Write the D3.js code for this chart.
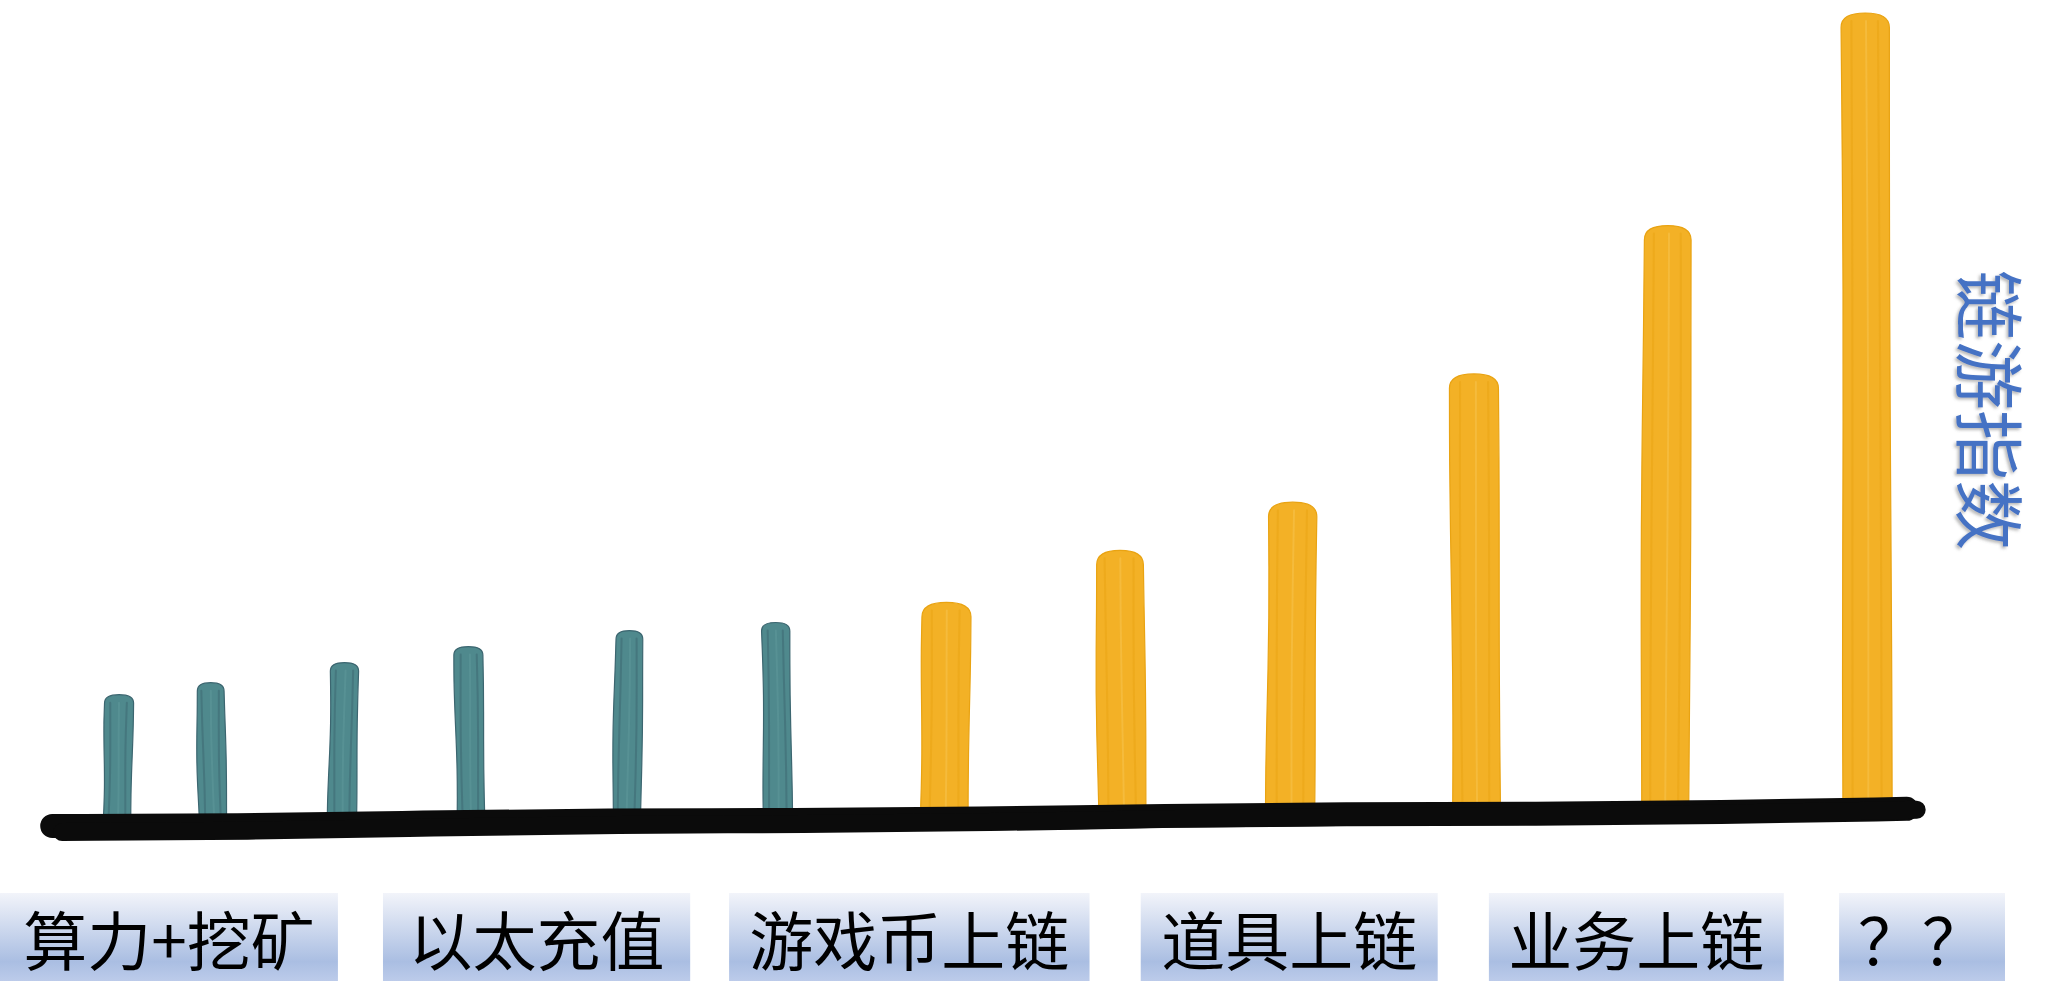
<!DOCTYPE html>
<html>
<head>
<meta charset="utf-8">
<script src="https://cdn.jsdelivr.net/npm/d3@7"></script>
<style>
html, body { margin: 0; padding: 0; background: #fff; overflow: hidden; }
svg { display: block; }
</style>
</head>
<body>
<svg id="chart"></svg>
<script>
// where each bar sits on the stage timeline (0-100) and its index height
const barStage = [5.7, 10.4, 16.7, 23.0, 30.6, 38.0, 46.1, 54.8, 63.0, 72.1, 81.3, 91.2];
const barIndex = [15, 16.5, 19, 21, 23, 24, 26.5, 33, 39, 55, 73.5, 100];
const barPhase = ["old", "old", "old", "old", "old", "old", "new", "new", "new", "new", "new", "new"];

// stage labels under the axis, with the span of the timeline they cover
const labelText = ["算力+挖矿", "以太充值", "游戏币上链", "道具上链", "业务上链", "？？"];
const labelFrom = [0, 18.7, 35.6, 55.7, 72.7, 89.8];
const labelTo = [16.5, 33.7, 53.2, 70.2, 87.1, 97.9];

const axisTitle = "链游指数";

const width = 2048;
const height = 982;

const svg = d3.select("#chart")
    .attr("width", width)
    .attr("height", height);

const defs = svg.append("defs");

const grad = defs.append("linearGradient")
    .attr("id", "boxGrad")
    .attr("x1", 0).attr("y1", 0)
    .attr("x2", 0).attr("y2", 1);
grad.append("stop").attr("offset", "0%").attr("stop-color", "#f2f4fa");
grad.append("stop").attr("offset", "78%").attr("stop-color", "#aabee2");
grad.append("stop").attr("offset", "100%").attr("stop-color", "#bccbea");

const shadow = defs.append("filter")
    .attr("id", "txtShadow")
    .attr("x", "-10%").attr("y", "-10%")
    .attr("width", "120%").attr("height", "120%");
shadow.append("feDropShadow")
    .attr("dx", 2).attr("dy", 2)
    .attr("stdDeviation", 1.6)
    .attr("flood-color", "#666")
    .attr("flood-opacity", 0.45);

const xScale = d3.scaleLinear()
    .domain([0, 100])
    .range([0, width]);

const yScale = d3.scaleLinear()
    .domain([0, 100])
    .range([815, 13]);

// the hand drawn axis runs slightly uphill
const axisStart = 2.55;
const axisEnd = 93.1;
const baseY = d3.scaleLinear()
    .domain([axisStart, axisEnd])
    .range([826, 810]);

const colors = {
    old: { fill: "#4f898d", dark: "#3c6670", light: "#5f9a9c" },
    new: { fill: "#f3b126", dark: "#e9a312", light: "#f8c651" }
};

const bars = barStage.map((s, i) => ({
    stage: s,
    value: barIndex[i],
    phase: barPhase[i],
    i: i
}));

// bars: a marker stroke plus a few streaks
const barG = svg.append("g").attr("class", "bars");

bars.forEach(d => {
    const cx = xScale(d.stage);
    const w = d.phase === "old" ? 28 : 48;
    const top = yScale(d.value);
    const bottom = baseY(d.stage) + 4;
    const c = colors[d.phase];
    const n = 6;
    const tilt = (d.i % 2 ? -1 : 1) * 2.5;

    const left = [];
    const right = [];
    for (let k = 0; k <= n; k++) {
        const yy = bottom - (bottom - top - w * 0.3) * k / n;
        const wob = 0.9 * Math.sin(k * 0.9 + d.i * 2.1);
        const lean = tilt * k / n;
        left.push([cx - w / 2 + wob + lean, yy]);
        right.push([cx + w / 2 - wob * 0.5 + lean, yy]);
    }
    const lt = left[n];
    const rt = right[n];
    const edge = d3.line().curve(d3.curveCatmullRom);
    let p = edge(left);
    p += `Q${lt[0]},${top} ${(lt[0] + rt[0]) / 2},${top}`;
    p += `Q${rt[0]},${top} ${rt[0]},${rt[1]}`;
    p += edge(right.slice().reverse()).replace(/^M/, "L");
    p += "Z";

    barG.append("path")
        .attr("d", p)
        .attr("fill", c.fill)
        .attr("stroke", c.dark)
        .attr("stroke-width", 1.2)
        .attr("stroke-linejoin", "round");

    // streaks inside the bar
    [-0.3, 0.02, 0.28].forEach((f, j) => {
        const line = d3.line().curve(d3.curveBasis);
        const pts = [];
        for (let k = 0; k <= 4; k++) {
            const yy = bottom - 6 - (bottom - top - 14) * k / 4;
            pts.push([cx + f * w + 0.8 * Math.sin(k + j + d.i) + tilt * k / 4, yy]);
        }
        barG.append("path")
            .attr("d", line(pts))
            .attr("fill", "none")
            .attr("stroke", j === 1 ? c.light : c.dark)
            .attr("stroke-width", 2)
            .attr("stroke-linecap", "round")
            .attr("opacity", 0.5);
    });
});

// thick brush stroke as the axis
const axisLine = d3.line().curve(d3.curveBasis);
const axisPts = d3.range(0, 11).map(k => {
    const s = axisStart + (axisEnd - axisStart) * k / 10;
    return [xScale(s), baseY(s) + Math.sin(k * 1.7) * 1.2];
});

svg.append("path")
    .attr("d", axisLine(axisPts))
    .attr("fill", "none")
    .attr("stroke", "#0b0b0b")
    .attr("stroke-width", 24)
    .attr("stroke-linecap", "round");

svg.append("path")
    .attr("d", axisLine(axisPts.map((p, k) => [p[0] + 10, p[1] + 6 - k * 0.5])))
    .attr("fill", "none")
    .attr("stroke", "#0b0b0b")
    .attr("stroke-width", 18)
    .attr("stroke-linecap", "round");

// stage labels
const labelG = svg.append("g").attr("class", "labels");
labelText.forEach((t, i) => {
    const x0 = xScale(labelFrom[i]);
    const x1 = xScale(labelTo[i]);
    labelG.append("rect")
        .attr("x", x0)
        .attr("y", 893)
        .attr("width", x1 - x0)
        .attr("height", 88)
        .attr("fill", "url(#boxGrad)");
    labelG.append("text")
        .attr("x", (x0 + x1) / 2)
        .attr("y", 937)
        .attr("text-anchor", "middle")
        .attr("dominant-baseline", "central")
        .attr("font-family", "'Noto Sans CJK SC', sans-serif")
        .attr("font-size", "64px")
        .attr("fill", "#000")
        .text(t);
});

// vertical title on the right
svg.append("text")
    .attr("transform", "translate(1993,410) rotate(90)")
    .attr("text-anchor", "middle")
    .attr("dominant-baseline", "central")
    .attr("font-family", "'Noto Sans CJK SC', sans-serif")
    .attr("font-size", "70px")
    .attr("fill", "#4472c4")
    .attr("filter", "url(#txtShadow)")
    .text(axisTitle);
</script>
</body>
</html>
